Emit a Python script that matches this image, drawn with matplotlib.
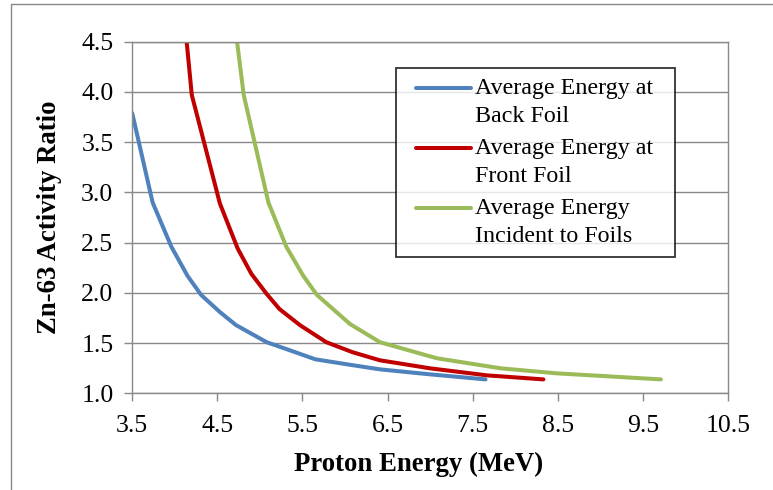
import matplotlib
matplotlib.use("Agg")
import matplotlib.pyplot as plt
from matplotlib.patches import Rectangle
from matplotlib.path import Path

# data
back_x = [3.5, 3.74, 3.96, 4.15, 4.31, 4.53, 4.72, 5.08, 5.35, 5.65, 6.10, 6.41, 7.0, 7.65]
back_y = [3.79, 2.90, 2.46, 2.17, 1.98, 1.81, 1.68, 1.51, 1.43, 1.34, 1.28, 1.24, 1.19, 1.14]

front_x = [4.10, 4.20, 4.53, 4.74, 4.90, 5.08, 5.23, 5.47, 5.78, 6.09, 6.41, 7.0, 7.67, 8.33]
front_y = [4.85, 3.97, 2.89, 2.44, 2.19, 1.99, 1.84, 1.68, 1.51, 1.41, 1.33, 1.25, 1.18, 1.14]

incident_x = [4.68, 4.81, 5.10, 5.31, 5.51, 5.67, 6.06, 6.41, 7.08, 7.83, 8.49, 9.71]
incident_y = [4.85, 3.97, 2.90, 2.46, 2.17, 1.98, 1.69, 1.51, 1.35, 1.25, 1.20, 1.14]

labels = ["Average Energy at\nBack Foil",
          "Average Energy at\nFront Foil",
          "Average Energy\nIncident to Foils"]
colors = ["#4F81BD", "#C00000", "#9BBB59"]

x_ticks = [3.5, 4.5, 5.5, 6.5, 7.5, 8.5, 9.5, 10.5]
y_ticks = [1.0, 1.5, 2.0, 2.5, 3.0, 3.5, 4.0, 4.5]

plt.rcParams['font.family'] = ['Liberation Serif', 'DejaVu Serif']
grey = "#898989"

fig = plt.figure(figsize=(7.73, 4.9), dpi=100)
ax = fig.add_axes([0.171, 0.197, 0.771, 0.718])

# outer chart border
fig.patches.append(Rectangle((11 / 773, -0.1), 1.2, 1 - 4 / 490 + 0.1,
                             transform=fig.transFigure, fill=False,
                             edgecolor=grey, linewidth=1.0))

for xs, ys, lab, c in zip([back_x, front_x, incident_x],
                          [back_y, front_y, incident_y], labels, colors):
    ax.plot(xs, ys, color=c, linewidth=2.9, label=lab, solid_capstyle='round')

ax.set_xlim(3.5, 10.5)
ax.set_ylim(1.0, 4.5)
ax.set_xticks(x_ticks)
ax.set_xticklabels([f"{v:.1f}" for v in x_ticks])
ax.set_yticks(y_ticks)
ax.set_yticklabels([f"{v:.1f}" for v in y_ticks])
ax.tick_params(axis='both', direction='out', length=5.5, width=1, color=grey,
               labelsize=18.5)
ax.tick_params(axis='x', pad=10)
ax.tick_params(axis='y', pad=8)
ax.grid(True, axis='y', color=grey, linewidth=1)
ax.set_axisbelow(True)
for s in ax.spines.values():
    s.set_color(grey)
    s.set_linewidth(1)

ax.set_xlabel("Proton Energy (MeV)", fontsize=19.3, fontweight='bold')
ax.set_ylabel("Zn-63 Activity Ratio", fontsize=19.3, fontweight='bold')
ax.xaxis.set_label_coords(0.48, -0.165)
ax.yaxis.set_label_coords(-0.117, 0.5)

leg = ax.legend(loc='upper left', bbox_to_anchor=((396 - 132.3) / 595.7, (393.3 - 68.3) / 351.6),
                fontsize=17.3, frameon=True, fancybox=False, edgecolor='black',
                handlelength=2.29, handletextpad=0.6, labelspacing=0.45,
                borderpad=0.4, borderaxespad=0)
leg.get_frame().set_linewidth(1.3)
for t in leg.get_texts():
    t.set_linespacing(1.45)


def wide_box(x0, y0, width, height, mutation_size):
    # legend frame with extra room on the right, as in the original
    x1 = x0 + width + 0.52 * mutation_size
    y1 = y0 + height
    return Path([(x0, y0), (x1, y0), (x1, y1), (x0, y1), (x0, y0)], closed=True)


leg.legendPatch.set_boxstyle(wide_box)
# line each handle up with the first line of its label
for h in leg.legend_handles:
    h.set_xdata([x + 7.7 for x in h.get_xdata()])
    h.set_ydata([y + 10.3 for y in h.get_ydata()])

fig.savefig("out.png", dpi=100)
